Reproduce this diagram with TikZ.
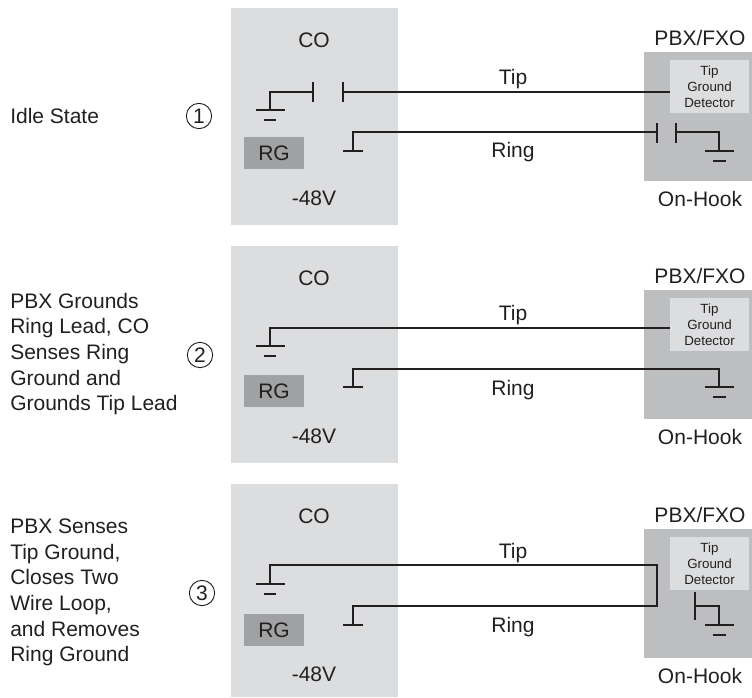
\documentclass[tikz,border=0pt]{standalone}
\usepackage{fontspec}
\setmainfont{Liberation Sans}
\definecolor{cofill}{HTML}{DCDDDE}
\definecolor{pbxfill}{HTML}{BCBEC0}
\definecolor{rgfill}{HTML}{A0A1A3}
\definecolor{ink}{HTML}{231F20}
\newcommand{\lbl}{\fontsize{15.75pt}{19.2pt}\selectfont}
\newcommand{\sml}{\fontsize{10pt}{12pt}\selectfont}
\tikzset{
  box/.style={anchor=north west,inner sep=0pt,outer sep=0pt,minimum width=#1},
  cobox/.style={box=125.25pt,fill=cofill,minimum height=162.75pt},
  pbxbox/.style={box=81pt,fill=pbxfill,minimum height=96.75pt},
  detbox/.style={box=59.25pt,fill=cofill,minimum height=39.75pt,text=ink,align=center,font=\sml},
  rgbox/.style={box=45pt,fill=rgfill,minimum height=24pt,text=ink,font=\lbl},
  txt/.style={text=ink,font=\lbl,inner sep=0pt},
  note/.style={text=ink,font=\lbl,inner sep=0pt,anchor=west,align=left},
  wire/.style={draw=ink,line width=2.2pt,line cap=butt,line join=miter},
  plate/.style={draw=ink,line width=1.8pt},
  num/.style={circle,draw=ink,line width=0.7pt,minimum size=19pt,inner sep=0pt,text=ink,font=\lbl}
}
\begin{document}
\begin{tikzpicture}[x=0.75pt,y=-0.75pt]
\useasboundingbox (0,0) rectangle (752,697);
% ---------- panel 1
\node[cobox] (co1) at (231,8) {};
\node[pbxbox] (pbx1) at (644,52) {};
\node[detbox] (det1) at (670,60) {Tip\\Ground\\Detector};
\node[rgbox] (rg1) at (244,137) {RG};
\node[txt] (cot1) at (314,40) {CO};
\node[txt] (v1) at (314,198) {-48V};
\node[txt] (pt1) at (700,38) {PBX/FXO};
\node[txt] (oh1) at (700,199) {On-Hook};
\node[txt] (tip1) at (513,79) {Tip};
\node[txt] (ring1) at (513,152) {Ring};
\node[note] (s1) at (10,116) {Idle State};
\node[num] (n1) at (199,116) {1};
\coordinate (g1a) at (270,110);
\coordinate (c1a) at (313,92);
\coordinate (c1b) at (343,92);
\draw[wire] (g1a) -- (270,92) -- (c1a);
\draw[plate] (313,82) -- (313,102);
\draw[plate] (343,82) -- (343,102);
\draw[plate] (256,110) -- (285,110);
\draw[plate] (264,120) -- (276,120);
\draw[wire] (c1b) -- (det1.west |- c1b);
\coordinate (r1a) at (353,151);
\coordinate (c1c) at (657,132);
\coordinate (c1d) at (676,132);
\draw[wire] (r1a) -- (353,132) -- (c1c);
\draw[plate] (343,151) -- (363,151);
\draw[plate] (657,123) -- (657,143);
\draw[plate] (676,123) -- (676,143);
\draw[wire] (c1d) -- (719,132) -- (719,151);
\draw[plate] (705,151) -- (734,151);
\draw[plate] (713,161) -- (726,161);
% ---------- panel 2
\node[cobox] (co2) at (231,246) {};
\node[pbxbox] (pbx2) at (644,290) {};
\node[detbox] (det2) at (670,298) {Tip\\Ground\\Detector};
\node[rgbox] (rg2) at (244,375) {RG};
\node[txt] (cot2) at (314,278) {CO};
\node[txt] (v2) at (314,436) {-48V};
\node[txt] (pt2) at (700,276) {PBX/FXO};
\node[txt] (oh2) at (700,437) {On-Hook};
\node[txt] (tip2) at (513,315) {Tip};
\node[txt] (ring2) at (513,390) {Ring};
\node[note] (s2) at (10,354) {PBX Grounds\\Ring Lead, CO\\Senses Ring\\Ground and\\Grounds Tip Lead};
\node[num] (n2) at (200,355) {2};
\coordinate (g2a) at (270,346);
\draw[wire] (g2a) -- (270,328) -- (det2.west |- 0,328);
\draw[plate] (256,346) -- (285,346);
\draw[plate] (264,356) -- (276,356);
\coordinate (r2a) at (353,387);
\coordinate (g2b) at (719,387);
\draw[wire] (r2a) -- (353,369) -- (719,369) -- (g2b);
\draw[plate] (343,387) -- (363,387);
\draw[plate] (705,387) -- (734,387);
\draw[plate] (713,397) -- (726,397);
% ---------- panel 3
\node[cobox,minimum height=159.75pt] (co3) at (231,484) {};
\node[pbxbox] (pbx3) at (644,529) {};
\node[detbox] (det3) at (670,537) {Tip\\Ground\\Detector};
\node[rgbox] (rg3) at (244,614) {RG};
\node[txt] (cot3) at (314,516) {CO};
\node[txt] (v3) at (314,674) {-48V};
\node[txt] (pt3) at (700,515) {PBX/FXO};
\node[txt] (oh3) at (700,676) {On-Hook};
\node[txt] (tip3) at (513,553) {Tip};
\node[txt] (ring3) at (513,627) {Ring};
\node[note] (s3) at (10,592.5) {PBX Senses\\Tip Ground,\\Closes Two\\Wire Loop,\\and Removes\\Ring Ground};
\node[num] (n3) at (202,593) {3};
\coordinate (g3a) at (270,584);
\coordinate (r3a) at (353,625);
\draw[wire] (g3a) -- (270,565) -- (657,565) -- (657,606) -- (353,606) -- (r3a);
\draw[plate] (256,584) -- (285,584);
\draw[plate] (264,594) -- (276,594);
\draw[plate] (343,625) -- (363,625);
\coordinate (g3b) at (719,625);
\draw[plate] (695,592) -- (695,620);
\draw[wire] (695,606) -- (719,606) -- (g3b);
\draw[plate] (705,625) -- (734,625);
\draw[plate] (713,635) -- (726,635);
\end{tikzpicture}
\end{document}
